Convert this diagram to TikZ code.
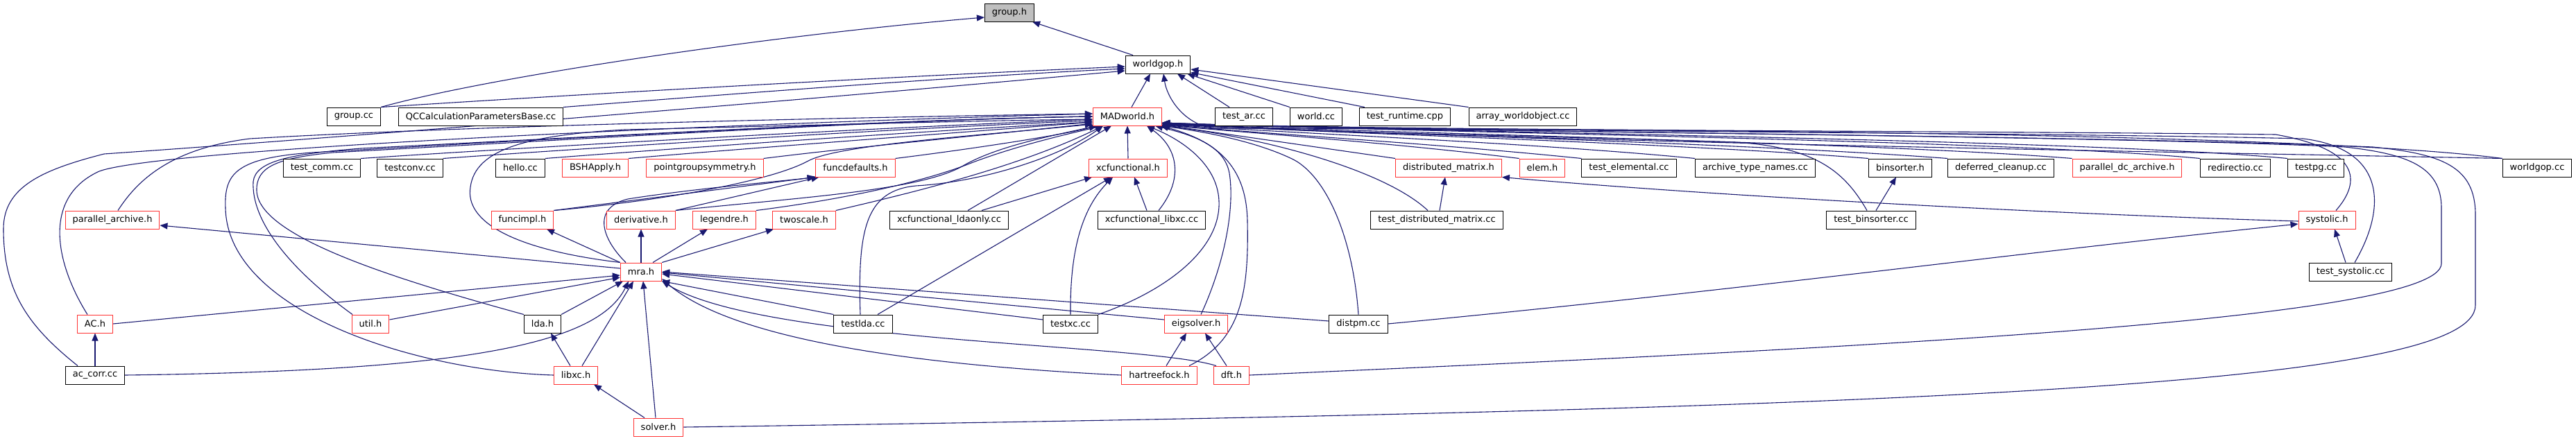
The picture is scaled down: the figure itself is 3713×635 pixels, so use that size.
\documentclass[tikz,border=0pt]{standalone}
\usepackage{fontspec}
\setmainfont{DejaVu Sans}
\usetikzlibrary{arrows.meta, backgrounds}
\definecolor{Navy}{HTML}{191970}
\definecolor{Alert}{HTML}{FF3333}
\definecolor{Shade}{HTML}{BFBFBF}
\tikzset{
    filebox/.style={rectangle, draw=black, line width=1pt, fill=white, text=black, minimum height=26pt, inner xsep=10.5pt, inner ysep=0pt, font=\fontsize{13}{15}\selectfont},
    redbox/.style={filebox, draw=Alert},
    selbox/.style={filebox, fill=Shade},
    incl/.style={-{Triangle[length=11pt, width=9pt]}, line width=1.1pt, color=Navy},
}

\begin{document}
\begin{tikzpicture}[x=1pt, y=-1pt]
\useasboundingbox (0,0) rectangle (3713,635);

\node[selbox] (grouph) at (1455,18) {group.h};
\node[filebox] (worldgoph) at (1669,93) {worldgop.h};
\node[filebox] (groupcc) at (510,168) {group.cc};
\node[filebox] (qccalc) at (693,168) {QCCalculationParametersBase.cc};
\node[redbox] (madworld) at (1625,168) {MADworld.h};
\node[filebox] (testar) at (1793,168) {test\_ar.cc};
\node[filebox] (worldcc) at (1897,168) {world.cc};
\node[filebox] (testruntime) at (2025,168) {test\_runtime.cpp};
\node[filebox] (arrayworld) at (2195,168) {array\_worldobject.cc};
\node[filebox] (testcomm) at (464,242) {test\_comm.cc};
\node[filebox] (testconv) at (591,242) {testconv.cc};
\node[filebox] (hello) at (750,242) {hello.cc};
\node[redbox] (bshapply) at (858,242) {BSHApply.h};
\node[redbox] (pointgroup) at (1016,242) {pointgroupsymmetry.h};
\node[redbox] (funcdefaults) at (1233,242) {funcdefaults.h};
\node[redbox] (xcfunc) at (1626,242) {xcfunctional.h};
\node[redbox] (distmatrix) at (2088,242) {distributed\_matrix.h};
\node[redbox] (elem) at (2223,242) {elem.h};
\node[filebox] (testelemental) at (2348,242) {test\_elemental.cc};
\node[filebox] (archivenames) at (2530,242) {archive\_type\_names.cc};
\node[filebox] (binsorter) at (2739,242) {binsorter.h};
\node[filebox] (deferred) at (2884,242) {deferred\_cleanup.cc};
\node[redbox] (pardc) at (3066,242) {parallel\_dc\_archive.h};
\node[filebox] (redirectio) at (3222,242) {redirectio.cc};
\node[filebox] (testpg) at (3338,242) {testpg.cc};
\node[filebox] (worldgopcc) at (3657,242) {worldgop.cc};
\node[redbox] (pararchive) at (162,317) {parallel\_archive.h};
\node[redbox] (funcimpl) at (753,317) {funcimpl.h};
\node[redbox] (derivative) at (924,317) {derivative.h};
\node[redbox] (legendre) at (1044,317) {legendre.h};
\node[redbox] (twoscale) at (1159,317) {twoscale.h};
\node[filebox] (xcldaonly) at (1368,317) {xcfunctional\_ldaonly.cc};
\node[filebox] (xclibxc) at (1660,317) {xcfunctional\_libxc.cc};
\node[filebox] (testdistmatrix) at (2071,317) {test\_distributed\_matrix.cc};
\node[filebox] (testbinsorter) at (2697,317) {test\_binsorter.cc};
\node[redbox] (systolic) at (3354,317) {systolic.h};
\node[redbox] (mra) at (924,392) {mra.h};
\node[filebox] (testsystolic) at (3388,392) {test\_systolic.cc};
\node[redbox] (ach) at (137,467) {AC.h};
\node[redbox] (util) at (534,467) {util.h};
\node[filebox] (lda) at (782,467) {lda.h};
\node[filebox] (testlda) at (1244,467) {testlda.cc};
\node[filebox] (testxc) at (1543,467) {testxc.cc};
\node[redbox] (eigsolver) at (1724,467) {eigsolver.h};
\node[filebox] (distpm) at (1958,467) {distpm.cc};
\node[filebox] (accorr) at (137,541) {ac\_corr.cc};
\node[redbox] (libxc) at (830,541) {libxc.h};
\node[redbox] (hartreefock) at (1671,541) {hartreefock.h};
\node[redbox] (dft) at (1775,541) {dft.h};
\node[redbox] (solver) at (949,616) {solver.h};

\begin{scope}[on background layer]
\fill[white] (0,0) rectangle (3713,635);
% group.h and worldgop.h
\draw[incl] ([xshift=-36pt]worldgoph.north) -- ([xshift=-3pt]grouph.south east);
\draw[incl] (groupcc.north east) .. controls (700,112) and (1100,52) .. ([yshift=-7pt]grouph.west);
\draw[incl] ([xshift=6pt]madworld.north) -- ([xshift=-11pt]worldgoph.south);
\draw[incl] ([xshift=-21pt]testar.north) -- ([xshift=28pt]worldgoph.south);
\draw[incl] (worldcc.north west) -- ([xshift=-5pt]worldgoph.south east);
\draw[incl] ([xshift=8pt]testruntime.north west) -- ([yshift=2pt]worldgoph.south east);
\draw[incl] (arrayworld.north west) -- ([yshift=-7pt]worldgoph.east);
\draw[incl] (groupcc.north east) .. controls (900,132) and (1300,110) .. ([yshift=-3pt]worldgoph.west);
\draw[incl] (qccalc.north east) .. controls (1000,140) and (1350,112) .. ([yshift=-6pt]worldgoph.west);
\draw[incl] ([xshift=-25pt]accorr.north) .. controls (40,470) and (5,420) .. (5,330) .. controls (5,270) and (60,245) .. (150,222) .. controls (400,205) and (1100,150) .. ([yshift=-9pt]worldgoph.west);
\draw[incl] (worldgopcc.north west) .. controls (3300,188) and (2200,186) .. (1748,185) .. controls (1705,178) and (1682,140) .. ([xshift=8pt]worldgoph.south);
% MADworld.h from the left
\draw[incl] ([xshift=8pt]pararchive.north) .. controls (195,265) and (240,215) .. (360,200) .. controls (700,180) and (1300,168) .. ([yshift=4pt]madworld.west);
\draw[incl] ([xshift=-11pt]ach.north) .. controls (80,380) and (60,285) .. (143,247) .. controls (230,215) and (1000,180) .. ([yshift=4pt]madworld.west);
\draw[incl] ([xshift=-26pt]util.north) .. controls (420,390) and (362,320) .. (365,262) .. controls (368,232) and (420,222) .. (520,214) .. controls (900,195) and (1300,172) .. (madworld.west);
\draw[incl] (libxc.west) .. controls (600,535) and (328,450) .. (325,300) .. controls (323,250) and (340,228) .. (450,220) .. controls (800,200) and (1300,172) .. (madworld.west);
\draw[incl] (lda.north west) .. controls (560,400) and (372,340) .. (370,275) .. controls (369,240) and (400,228) .. (480,220) .. controls (850,200) and (1300,172) .. (madworld.west);
\draw[incl] (mra.north west) .. controls (740,360) and (670,320) .. (678,270) .. controls (685,215) and (760,195) .. (900,187) .. controls (1200,180) and (1400,174) .. ([yshift=-4pt]madworld.west);
\draw[incl] (testcomm.north east) .. controls (800,210) and (1250,185) .. ([yshift=-4pt]madworld.west);
\draw[incl] (testconv.north east) .. controls (900,210) and (1300,185) .. ([yshift=-6pt]madworld.west);
\draw[incl] (hello.north east) .. controls (1000,212) and (1350,188) .. ([yshift=-8pt]madworld.west);
\draw[incl] (bshapply.north east) .. controls (1100,212) and (1400,190) .. ([yshift=-8pt]madworld.west);
\draw[incl] (pointgroup.north east) .. controls (1250,210) and (1450,192) .. ([yshift=-10pt]madworld.west);
\draw[incl] (funcdefaults.north east) .. controls (1400,215) and (1530,195) .. ([xshift=-44pt]madworld.south);
\draw[incl] (funcimpl.north east) .. controls (950,290) and (1110,262) .. (1165,232) .. controls (1210,208) and (1420,195) .. ([yshift=-11pt]madworld.west);
\draw[incl] (derivative.north east) .. controls (1150,285) and (1330,275) .. (1390,238) .. controls (1440,210) and (1520,195) .. ([xshift=-44pt]madworld.south);
\draw[incl] (legendre.north east) .. controls (1250,283) and (1350,255) .. (1400,235) .. controls (1460,212) and (1530,195) .. ([xshift=-35pt]madworld.south);
\draw[incl] (twoscale.north east) .. controls (1350,270) and (1480,235) .. ([xshift=-35pt]madworld.south);
\draw[incl] ([xshift=-4pt]testlda.north) .. controls (1236,330) and (1248,275) .. (1320,268) .. controls (1420,262) and (1530,225) .. ([xshift=-35pt]madworld.south);
\draw[incl] ([xshift=27pt]xcldaonly.north) -- ([xshift=-23pt]madworld.south);
\draw[incl] (xcfunc.north) -- (madworld.south);
% MADworld.h from below right
\draw[incl] ([xshift=10pt]xclibxc.north) .. controls (1705,260) and (1700,215) .. ([xshift=28pt]madworld.south);
\draw[incl] (testxc.north east) .. controls (1680,420) and (1760,360) .. (1757,290) .. controls (1755,235) and (1700,200) .. ([xshift=28pt]madworld.south);
\draw[incl] ([xshift=7pt]eigsolver.north) .. controls (1765,380) and (1780,300) .. (1772,250) .. controls (1765,210) and (1720,195) .. ([xshift=40pt]madworld.south);
\draw[incl] ([xshift=43pt]hartreefock.north) .. controls (1790,490) and (1800,420) .. (1798,320) .. controls (1797,245) and (1760,205) .. ([xshift=48pt]madworld.south);
\draw[incl] (distpm.north) .. controls (1950,340) and (1910,250) .. (1860,228) .. controls (1800,200) and (1720,188) .. (madworld.south east);
\draw[incl] ([xshift=-13pt]testdistmatrix.north) .. controls (1990,240) and (1800,195) .. (madworld.south east);
% MADworld.h from the right
\draw[incl] (distmatrix.north west) -- ([yshift=-12pt]madworld.east);
\draw[incl] (elem.north west) .. controls (2000,205) and (1800,192) .. ([yshift=-12pt]madworld.east);
\draw[incl] (testelemental.north west) .. controls (2050,205) and (1800,192) .. ([yshift=-11pt]madworld.east);
\draw[incl] (archivenames.north west) .. controls (2200,205) and (1850,192) .. ([yshift=-11pt]madworld.east);
\draw[incl] (binsorter.north west) .. controls (2400,205) and (1900,192) .. ([yshift=-10pt]madworld.east);
\draw[incl] (deferred.north west) .. controls (2500,205) and (1900,191) .. ([yshift=-10pt]madworld.east);
\draw[incl] (pardc.north west) .. controls (2700,205) and (1950,191) .. ([yshift=-10pt]madworld.east);
\draw[incl] (redirectio.north west) .. controls (2900,202) and (2000,190) .. ([yshift=-9pt]madworld.east);
\draw[incl] (testpg.north west) .. controls (3000,200) and (2000,190) .. ([yshift=-9pt]madworld.east);
\draw[incl] (worldgopcc.north west) .. controls (3300,222) and (2200,205) .. ([yshift=-11pt]madworld.east);
\draw[incl] ([xshift=-6pt]testbinsorter.north) .. controls (2660,250) and (2620,212) .. (2500,205) .. controls (2200,195) and (1900,192) .. ([yshift=-10pt]madworld.east);
\draw[incl] ([xshift=13pt]systolic.north) .. controls (3405,260) and (3400,215) .. (3280,194) .. controls (2800,188) and (2000,189) .. ([yshift=-9pt]madworld.east);
\draw[incl] ([xshift=6pt]testsystolic.north) .. controls (3440,300) and (3440,215) .. (3320,200) .. controls (2900,190) and (2000,190) .. ([yshift=-9pt]madworld.east);
\draw[incl] (dft.east) .. controls (2600,505) and (3519,465) .. (3519,380) -- (3519,300) .. controls (3519,240) and (3470,222) .. (3380,212) .. controls (3000,194) and (2000,190) .. ([yshift=-10pt]madworld.east);
\draw[incl] (solver.east) .. controls (2800,590) and (3568,555) .. (3568,440) -- (3568,310) .. controls (3568,240) and (3520,222) .. (3420,212) .. controls (3000,194) and (2000,190) .. ([yshift=-10pt]madworld.east);
% mra.h
\draw[incl] (ach.east) -- ([yshift=-5pt]mra.west);
\draw[incl] ([yshift=6pt]util.east) -- ([yshift=-8pt]mra.west);
\draw[incl] (lda.north east) -- ([xshift=-26pt]mra.south);
\draw[incl] (accorr.east) .. controls (650,535) and (860,500) .. ([xshift=-18pt]mra.south);
\draw[incl] ([xshift=9pt]libxc.north) -- ([xshift=-11pt]mra.south);
\draw[incl] ([xshift=-4pt]solver.north) -- ([xshift=3pt]mra.south);
\draw[incl] (testlda.north west) -- (mra.south east);
\draw[incl] ([yshift=6pt]testxc.west) -- ([yshift=-3pt]mra.east);
\draw[incl] ([yshift=6pt]eigsolver.west) -- ([yshift=-1pt]mra.east);
\draw[incl] ([yshift=4pt]distpm.west) -- (mra.east);
\draw[incl] (hartreefock.west) .. controls (1350,528) and (1060,495) .. ([yshift=-10pt]mra.east);
\draw[incl] ([xshift=-22pt]dft.north) .. controls (1650,495) and (1100,495) .. (mra.south east);
\draw[incl] ([yshift=5pt]mra.west) -- ([yshift=-8pt]pararchive.east);
\draw[incl] (mra.north west) -- ([xshift=35pt]funcimpl.south);
\draw[incl] (mra.north) -- (derivative.south);
\draw[incl] ([xshift=17pt]mra.north) -- ([xshift=-24pt]legendre.south);
\draw[incl] (mra.north east) -- ([xshift=-44pt]twoscale.south);
\draw[incl] ([xshift=-22pt]mra.north) .. controls (868,345) and (852,300) .. (905,287) .. controls (1000,272) and (1120,262) .. (funcdefaults.south west);
\draw[incl] (funcimpl.north east) -- ([xshift=-1pt]funcdefaults.south west);
\draw[incl] (derivative.north east) -- ([xshift=5pt]funcdefaults.south west);
% the rest
\draw[incl] ([xshift=47pt]xcldaonly.north) -- ([xshift=-52pt]xcfunc.south);
\draw[incl] ([xshift=21pt]testlda.north) -- ([xshift=-24pt]xcfunc.south);
\draw[incl] (testxc.north) .. controls (1542,360) and (1560,300) .. ([xshift=-22pt]xcfunc.south);
\draw[incl] ([xshift=-7pt]xclibxc.north) -- ([xshift=9pt]xcfunc.south);
\draw[incl] ([xshift=4pt]testdistmatrix.north) -- ([xshift=-5pt]distmatrix.south);
\draw[incl] ([yshift=-2pt]systolic.west) .. controls (3000,310) and (2500,285) .. (distmatrix.south east);
\draw[incl] ([xshift=7pt]testbinsorter.north) -- ([xshift=-6pt]binsorter.south);
\draw[incl] ([xshift=-7pt]testsystolic.north) -- ([xshift=11pt]systolic.south);
\draw[incl] (distpm.east) .. controls (2500,420) and (2900,365) .. ([yshift=-6pt]systolic.west);
\draw[incl] (accorr.north) -- (ach.south);
\draw[incl] ([xshift=-8pt]libxc.north) -- ([xshift=12pt]lda.south);
\draw[incl] ([xshift=-20pt]solver.north) -- ([xshift=26pt]libxc.south);
\draw[incl] ([xshift=10pt]hartreefock.north) -- ([xshift=-14pt]eigsolver.south);
\draw[incl] ([xshift=-7pt]dft.north) -- ([xshift=13pt]eigsolver.south);
\end{scope}
\end{tikzpicture}
\end{document}
